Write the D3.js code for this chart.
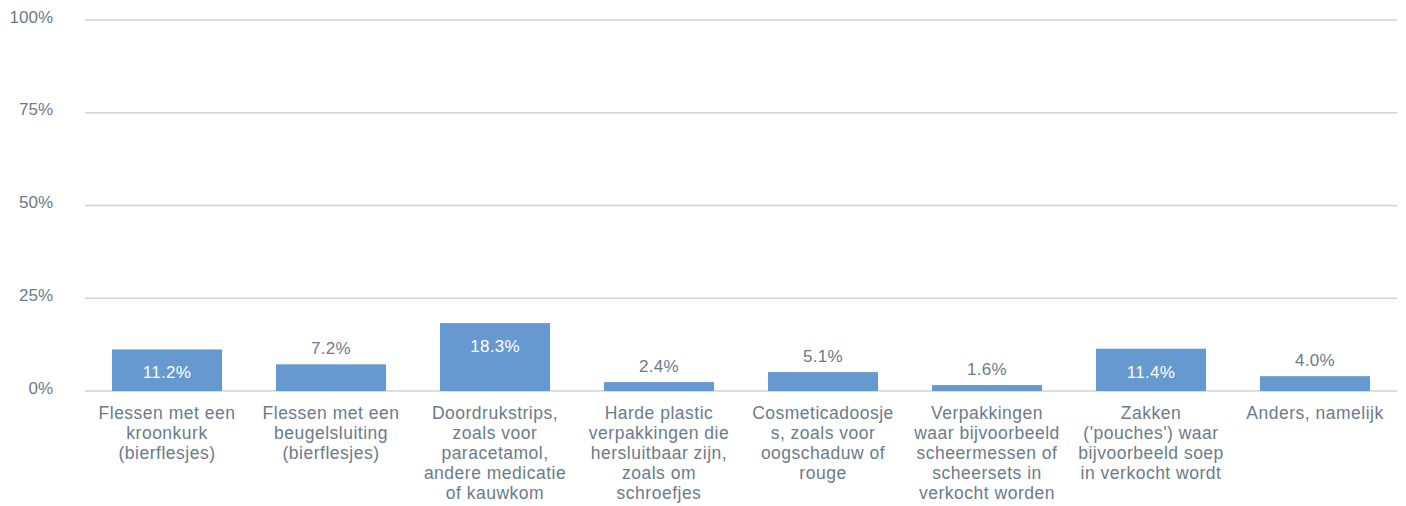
<!DOCTYPE html>
<html>
<head>
<meta charset="utf-8">
<script src="https://cdn.jsdelivr.net/npm/d3@7"></script>
<style>
  body { margin: 0; background: #fff; }
  text { font-family: "Liberation Sans", Arial, sans-serif; }
</style>
</head>
<body>
<svg id="chart"></svg>
<script>
const categories = [
  'Flessen met een|kroonkurk|(bierflesjes)',
  'Flessen met een|beugelsluiting|(bierflesjes)',
  'Doordrukstrips,|zoals voor|paracetamol,|andere medicatie|of kauwkom',
  'Harde plastic|verpakkingen die|hersluitbaar zijn,|zoals om|schroefjes',
  'Cosmeticadoosje|s, zoals voor|oogschaduw of|rouge',
  'Verpakkingen|waar bijvoorbeeld|scheermessen of|scheersets in|verkocht worden',
  "Zakken|('pouches') waar|bijvoorbeeld soep|in verkocht wordt",
  'Anders, namelijk'
];
const values = [11.2, 7.2, 18.3, 2.4, 5.1, 1.6, 11.4, 4.0];
const yTicks = [0, 25, 50, 75, 100];

const W = 1406, H = 506;
const margin = { top: 20, right: 9, bottom: 115, left: 85 };
const width = W - margin.left - margin.right;
const height = H - margin.top - margin.bottom;
const textColor = '#6b7b8b';

const svg = d3.select('#chart')
  .attr('width', W)
  .attr('height', H)
  .append('g')
  .attr('transform', `translate(${margin.left},${margin.top})`);

const x = d3.scaleBand()
  .domain(categories)
  .range([0, width])
  .paddingInner(0.329)
  .paddingOuter(0.1645);

const y = d3.scaleLinear()
  .domain([0, 100])
  .range([height, 0]);

// gridlines
svg.append('g')
  .selectAll('line')
  .data(yTicks)
  .enter()
  .append('line')
  .attr('x1', 0)
  .attr('x2', width)
  .attr('y1', d => y(d))
  .attr('y2', d => y(d))
  .attr('stroke', '#d2d2d2')
  .attr('stroke-width', 1.5);

// y tick labels
svg.append('g')
  .selectAll('text')
  .data(yTicks)
  .enter()
  .append('text')
  .attr('x', -32)
  .attr('y', d => y(d))
  .attr('dy', '0.15em')
  .attr('text-anchor', 'end')
  .attr('fill', textColor)
  .style('font-size', '17px')
  .text(d => d + '%');

// bars
svg.selectAll('rect.bar')
  .data(values)
  .enter()
  .append('rect')
  .attr('class', 'bar')
  .attr('x', (d, i) => x(categories[i]))
  .attr('y', d => y(d))
  .attr('width', x.bandwidth())
  .attr('height', d => height - y(d))
  .attr('fill', '#6699cf');

// value labels
svg.selectAll('text.val')
  .data(values)
  .enter()
  .append('text')
  .attr('class', 'val')
  .attr('x', (d, i) => x(categories[i]) + x.bandwidth() / 2)
  .attr('y', d => d > 10 ? y(d) + 29 : y(d) - 10)
  .attr('text-anchor', 'middle')
  .attr('fill', d => d > 10 ? '#ffffff' : textColor)
  .style('font-size', '17px')
  .style('letter-spacing', '0.3px')
  .text(d => d.toFixed(1) + '%');

// category labels
const cat = svg.selectAll('text.cat')
  .data(categories)
  .enter()
  .append('text')
  .attr('class', 'cat')
  .attr('x', d => x(d) + x.bandwidth() / 2)
  .attr('y', height + 28)
  .attr('text-anchor', 'middle')
  .attr('fill', textColor)
  .style('font-size', '17.5px')
  .style('letter-spacing', '0.5px');

cat.selectAll('tspan')
  .data(d => d.split('|'))
  .enter()
  .append('tspan')
  .attr('x', function () { return d3.select(this.parentNode).attr('x'); })
  .attr('dy', (d, i) => i === 0 ? 0 : 20)
  .text(d => d);
</script>
</body>
</html>
